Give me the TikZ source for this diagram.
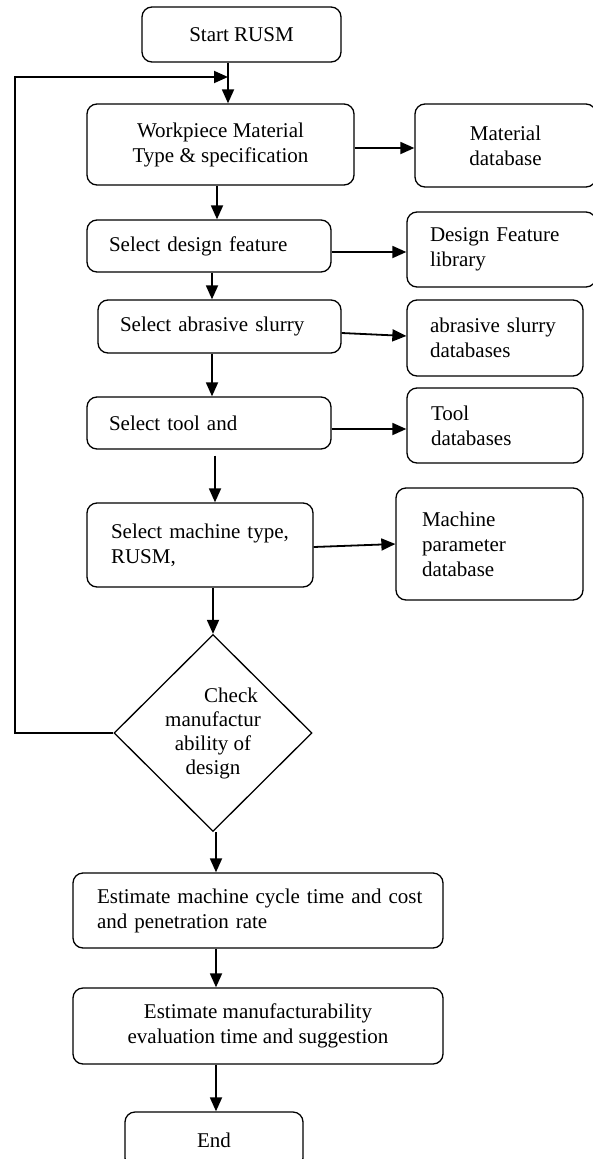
\documentclass[tikz,border=0pt]{standalone}
\usepackage{fontspec}
\setmainfont{Liberation Serif}
\usetikzlibrary{shapes.geometric,arrows.meta}
\begin{document}
\begin{tikzpicture}[x=1pt,y=-1pt,
  box/.style={draw, line width=1.3pt, rounded corners=10pt, inner sep=0pt,
    font=\fontsize{21}{25}\selectfont},
  cbox/.style={box, align=center},
  lbox/.style={box, align=left},
  dia/.style={draw, line width=1.3pt, diamond, aspect=1, inner sep=0pt,
    minimum width=198pt, minimum height=197pt, align=center,
    font=\fontsize{21}{24}\selectfont},
  arr/.style={line width=1.8pt, -{Triangle[length=14pt,width=12pt]}},
  ln/.style={line width=1.8pt}]
\useasboundingbox (0,0) rectangle (592,1159);

\node[cbox, minimum width=199pt, minimum height=55pt] (start) at (241.5,34.5) {Start RUSM};
\node[cbox, minimum width=267pt, minimum height=81pt] (wp) at (220.5,144.5) {Workpiece Material\\Type \& specification};
\node[cbox, minimum width=181pt, minimum height=83pt] (matdb) at (505.5,145.5) {Material\\database};
\node[lbox, inner xsep=22pt, text width=200pt, minimum height=52pt] (design) at (209,246) {Select design feature};
\node[lbox, inner xsep=23pt, text width=143pt, minimum height=75pt] (dflib) at (501.5,249.5) {Design Feature\\library};
\node[lbox, inner xsep=22pt, text width=199pt, minimum height=53pt] (abr) at (219.5,326.5) {Select abrasive slurry};
\node[lbox, inner xsep=23pt, text width=130pt, minimum height=76pt] (abrdb) at (495,338) {abrasive slurry\\databases};
\node[lbox, inner xsep=22pt, text width=200pt, minimum height=52pt] (tool) at (209,423) {Select tool and};
\node[lbox, inner xsep=24pt, text width=128pt, minimum height=75pt] (tooldb) at (495,425.5) {Tool\\databases};
\node[lbox, inner xsep=24pt, text width=178pt, minimum height=84pt] (mach) at (200,545) {\mbox{Select machine type,}\\RUSM,};
\node[lbox, inner xsep=26pt, text width=135pt, minimum height=112pt] (mpdb) at (489.5,544) {Machine\\parameter\\database};
\node[dia] (chk) at (213,733) {\hspace*{36pt}Check\\manufactur\\ability of\\design};
\node[lbox, inner xsep=24pt, text width=322pt, minimum height=75pt] (est1) at (258,910.5) {\mbox{Estimate machine cycle time and cost}\\and penetration rate};
\node[cbox, minimum width=370pt, minimum height=76pt] (est2) at (258,1026) {Estimate manufacturability\\evaluation time and suggestion};
\node[cbox, minimum width=178pt, minimum height=56pt] (end) at (214,1140) {End};

% helper coordinates
\coordinate (j) at (228,77);
\coordinate (lp) at (15,0);
\coordinate (c1) at (217,0);
\coordinate (c2) at (212,0);
\coordinate (c3) at (215,0);
\coordinate (c5) at (216,0);
\coordinate (h1) at (0,148);
\coordinate (h2) at (0,252);
\coordinate (h3a) at (0,333);
\coordinate (h3b) at (0,336);
\coordinate (h4) at (0,429);
\coordinate (h5a) at (0,547);
\coordinate (h5b) at (0,544);

% vertical flow
\draw[arr] (start.south -| j) -- (wp.north -| j);
\draw[arr] (wp.south -| c1) -- (design.north -| c1);
\draw[arr] (design.south -| c2) -- (abr.north -| c2);
\draw[arr] (abr.south -| c2) -- (tool.north -| c2);
\path (tool.south -| c3) ++(0,6) coordinate (t3);
\draw[arr] (t3) -- (mach.north -| c3);
\draw[arr] (mach.south -| chk.north) -- (chk.north);
\draw[arr] (chk.south -| c5) -- (est1.north -| c5);
\draw[arr] (est1.south -| c5) -- (est2.north -| c5);
\draw[arr] (est2.south -| c5) -- (end.north -| c5);

% loop back
\draw[arr] (chk.west) -- (chk.west -| lp) -- (lp |- j) -- (j);

% to databases
\draw[arr] (wp.east |- h1) -- (matdb.west |- h1);
\draw[arr] (design.east |- h2) -- (dflib.west |- h2);
\draw[arr] (abr.east |- h3a) -- (abrdb.west |- h3b);
\draw[arr] (tool.east |- h4) -- (tooldb.west |- h4);
\draw[arr] (mach.east |- h5a) -- (mpdb.west |- h5b);
\end{tikzpicture}
\end{document}
